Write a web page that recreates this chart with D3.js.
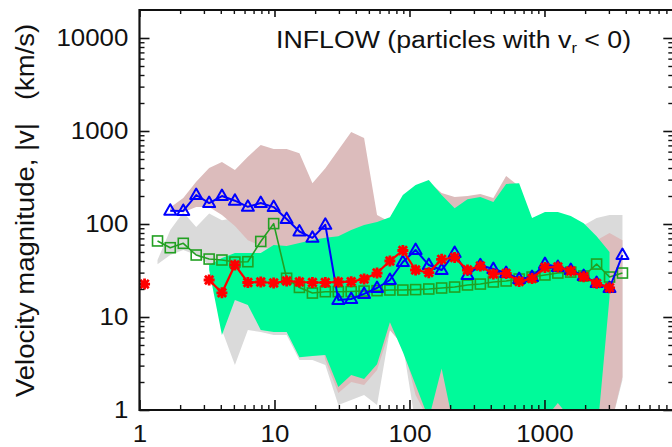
<!DOCTYPE html>
<html>
<head>
<meta charset="utf-8">
<script src="https://cdn.jsdelivr.net/npm/d3@7"></script>
<style>
  html, body { margin: 0; padding: 0; background: #fff; }
  svg { display: block; }
  text { font-family: "Liberation Sans", Arial, Helvetica, sans-serif; fill: #111; }
</style>
</head>
<body>
<svg id="chart" width="672" height="447"></svg>
<script>
// Radial bins (log-spaced bin centres)
const binX = [1.09, 1.36, 1.69, 2.11, 2.63, 3.28, 4.08, 5.09, 6.35, 7.91,
              9.86, 12.3, 15.3, 19.1, 23.8, 29.7, 37.0, 46.1, 57.5, 71.6,
              89.3, 111, 139, 173, 216, 269, 335, 418, 520, 649,
              809, 1008, 1256, 1566, 1952, 2433, 3033, 3781];

// Median speeds of the three particle samples (null = empty bin)
const blueV = [null, null, 139, 138, 205, 168, 200, 178, 153, 168,
               152, 113, 83, 71, 98, 15.2, 15.6, 17.7, 20.5, 25.0,
               39, 52.5, 36.2, 32, 48.8, 28.3, 36, 32.8, 29.7, 25.6,
               26.9, 37.1, 34.5, 32, 27.6, 23.2, 20.5, 46.4];
const redV = [22.6, null, null, null, null, 25, 18.2, 36.3, 23.5, 23.8,
              23.2, 24.4, 23.8, 23.5, 23.5, 23.8, 24, 25.6, 29.7, 40,
              51.9, 32, 30, 41.7, 43.6, 32, 35.3, 29, 29.4, 24.1,
              25.9, 34.1, 34.5, 31.2, 27.1, 23, 20.6, null];
const greenV = [null, 65.7, 55.6, 62, 46.4, 42, 41, 39, 39.3, 64.9,
                101, 26.1, 20.8, 18.1, 18.7, 18.7, 18.8, 19.0, 19.2, 19.5,
                19.5, 19.7, 20, 20.5, 21, 22.1, 22.6, 23.8, 24.4, 25.6,
                26.9, 28.3, 29.7, 30.4, 27.6, 37.1, 26.9, 29.7];

// Spread (low / high) of each sample
const greyLo = [null, 37, 46.4, 52.5, 46.4, 36.2, 7.25, 3.05, 7.25, 6.9,
                6.4, 6.4, 3.45, 3.45, 3.05, 1.13, 1.28, 1.45, 1.13, 7.25,
                5, 0.7, 0.6, 0.6, 0.6, 0.6, 0.6, 0.6, 0.6, 0.6,
                0.6, 0.6, 0.6, 0.6, 0.6, 0.6, 0.6, 2.1];
const greyHi = [null, 41, 86, 134, 93, 130, 110, 116, 90, 82,
                67, 52, 46, 43, 46, 52, 55, 60, 65, 70,
                80, 90, 90, 90, 90, 90, 90, 90, 90, 90,
                90, 90, 90, 90, 97, 116, 125, 125];
const pinkLo = [null, null, 135, 134, 152, 152, 125, 95, 67, 58,
                52, 46, 40, 20, 3.45, 1.52, 2.0, 1.86, 2.69, 7.25,
                5, 1.45, 0.78, 0.6, 0.6, 0.6, 0.6, 0.6, 0.6, 0.6,
                0.6, 0.8, 0.8, 0.8, 0.6, 0.6, 0.6, 2.26];
const pinkHi = [null, null, 150, 190, 284, 400, 465, 381, 530, 707,
                640, 640, 575, 275, 398, 625, 975, 840, 125, 105,
                181, 244, 284, 215, 195, 200, 210, 190, 328, 255,
                105, 125, 125, 113, 95, 67, 80, 67];
const mintLo = [null, null, null, null, null, 32, 6.4, 15.2, 13.5, 7.25,
                6.9, 6.9, 3.7, 3.8, 3.9, 1.77, 2.38, 2.15, 3.1, 8.8,
                4.2, 1.86, 0.8, 2.8, 0.6, 0.6, 0.6, 0.6, 0.6, 0.6,
                0.6, 0.8, 1.19, 0.8, 0.6, 0.48, 16.4, null];
const mintHi = [null, null, null, null, null, 36.2, 43, 48.7, 48.7, 48.7,
                59.5, 58, 62.5, 67.3, 71, 74, 86, 97.5, 105, 118,
                205, 263, 297, 205, 148, 185, 195, 172, 270, 275,
                116, 135, 135, 122, 102, 74, 50, null];

const xMajor = [1, 10, 100, 1000];
const yMajor = [1, 10, 100, 1000, 10000];

const plotL = 139.5, plotR = 673.3, plotT = 10, plotB = 410;

const x = d3.scaleLog().domain([1, 9000]).range([plotL, plotR]);
const y = d3.scaleLog().domain([1, 20000]).range([plotB, plotT]);

const svg = d3.select("#chart");

svg.append("defs").append("clipPath").attr("id", "plot-clip")
  .append("rect").attr("x", plotL).attr("y", plotT)
  .attr("width", plotR - plotL).attr("height", plotB - plotT);

const plot = svg.append("g").attr("clip-path", "url(#plot-clip)");

function band(lo, hi, color) {
  const rows = binX.map((bx, i) => ({ bx, lo: lo[i], hi: hi[i] }));
  const area = d3.area()
    .defined(d => d.lo != null && d.hi != null)
    .x(d => x(d.bx)).y0(d => y(d.lo)).y1(d => y(d.hi));
  plot.append("path").datum(rows).attr("d", area)
    .attr("fill", color).attr("stroke", "none");
}
band(greyLo, greyHi, "#dadada");
band(pinkLo, pinkHi, "#dcbcbc");
band(mintLo, mintHi, "#00fa9a");

function series(vals, color, width) {
  const rows = binX.map((bx, i) => ({ bx, v: vals[i] }));
  const line = d3.line().defined(d => d.v != null)
    .x(d => x(d.bx)).y(d => y(d.v));
  plot.append("path").datum(rows).attr("d", line)
    .attr("fill", "none").attr("stroke", color)
    .attr("stroke-width", width).attr("stroke-linejoin", "round");
  return rows.filter(d => d.v != null);
}

// green: open squares
const gPts = series(greenV, "#22a022", 1.6);
plot.append("g").selectAll("rect").data(gPts).join("rect")
  .attr("x", d => x(d.bx) - 5).attr("y", d => y(d.v) - 5)
  .attr("width", 10).attr("height", 10)
  .attr("fill", "none").attr("stroke", "#22a022").attr("stroke-width", 1.6);

// blue: open triangles
const bPts = series(blueV, "#0000ff", 2);
plot.append("g").selectAll("path").data(bPts).join("path")
  .attr("d", "M0,-6.5L6,4L-6,4Z")
  .attr("transform", d => `translate(${x(d.bx)},${y(d.v)})`)
  .attr("fill", "none").attr("stroke", "#0000ff").attr("stroke-width", 2)
  .attr("stroke-linejoin", "round");

// red: asterisks
const rPts = series(redV, "#ff0000", 2.2);
plot.append("g").selectAll("path").data(rPts).join("path")
  .attr("d", "M-5.5,0H5.5M0,-5.5V5.5M-4.2,-4.2L4.2,4.2M-4.2,4.2L4.2,-4.2")
  .attr("transform", d => `translate(${x(d.bx)},${y(d.v)})`)
  .attr("fill", "none").attr("stroke", "#ff0000").attr("stroke-width", 2.8);

// axes
function minorTicks(domain) {
  const out = [];
  for (let p = Math.floor(Math.log10(domain[0])); p <= Math.ceil(Math.log10(domain[1])); p++) {
    for (let m = 2; m <= 9; m++) {
      const v = m * Math.pow(10, p);
      if (v > domain[0] && v < domain[1]) out.push(v);
    }
  }
  return out;
}
const xMinor = minorTicks(x.domain());
const yMinor = minorTicks(y.domain());
const stretch = "scale(1.1,1)";

function styleAxis(g, sw) {
  g.select(".domain").remove();
  g.selectAll(".tick line").attr("stroke", "#111").attr("stroke-width", sw);
}

// bottom
svg.append("g").attr("transform", `translate(0,${plotB})`)
  .call(d3.axisBottom(x).tickValues(xMinor).tickSizeInner(-5).tickSizeOuter(0).tickFormat(""))
  .call(g => styleAxis(g, 1.4));
svg.append("g").attr("transform", `translate(0,${plotB})`)
  .call(d3.axisBottom(x).tickValues(xMajor).tickSizeInner(-10).tickSizeOuter(0)
        .tickPadding(15).tickFormat(d3.format("d")))
  .call(g => styleAxis(g, 1.6))
  .call(g => g.selectAll("text").attr("font-size", 23.5).attr("fill", "#111")
        .attr("transform", stretch));
// top
svg.append("g").attr("transform", `translate(0,${plotT})`)
  .call(d3.axisTop(x).tickValues(xMinor).tickSizeInner(-4).tickSizeOuter(0).tickFormat(""))
  .call(g => styleAxis(g, 1.4));
svg.append("g").attr("transform", `translate(0,${plotT})`)
  .call(d3.axisTop(x).tickValues(xMajor).tickSizeInner(-7).tickSizeOuter(0).tickFormat(""))
  .call(g => styleAxis(g, 1.6));
// left
svg.append("g").attr("transform", `translate(${plotL},0)`)
  .call(d3.axisLeft(y).tickValues(yMinor).tickSizeInner(-5).tickSizeOuter(0).tickFormat(""))
  .call(g => styleAxis(g, 1.4));
svg.append("g").attr("transform", `translate(${plotL},0)`)
  .call(d3.axisLeft(y).tickValues(yMajor).tickSizeInner(-10).tickSizeOuter(0)
        .tickPadding(10.2).tickFormat(d3.format("d")))
  .call(g => styleAxis(g, 1.6))
  .call(g => g.selectAll("text").attr("font-size", 23.5).attr("fill", "#111")
        .attr("transform", stretch));
// right
svg.append("g").attr("transform", `translate(${plotR},0)`)
  .call(d3.axisRight(y).tickValues(yMinor).tickSizeInner(-5).tickSizeOuter(0).tickFormat(""))
  .call(g => styleAxis(g, 1.4));
svg.append("g").attr("transform", `translate(${plotR},0)`)
  .call(d3.axisRight(y).tickValues(yMajor).tickSizeInner(-10).tickSizeOuter(0).tickFormat(""))
  .call(g => styleAxis(g, 1.6));

// frame
svg.append("path")
  .attr("d", `M${plotL},${plotT}H${plotR}V${plotB}H${plotL}Z`)
  .attr("fill", "none").attr("stroke", "#111").attr("stroke-width", 2.2);

// y-axis title
svg.append("text")
  .attr("transform", "translate(34,397) rotate(-90) scale(1.1,1)")
  .attr("font-size", 25)
  .style("white-space", "pre")
  .text("Velocity magnitude, |v|   (km/s)");

// panel title
const t = svg.append("text")
  .attr("transform", "translate(276,48) scale(1.1,1)")
  .attr("font-size", 24.3)
  .style("white-space", "pre");
t.append("tspan").text("INFLOW (particles with v");
t.append("tspan").attr("font-size", 15).attr("dy", 5).text("r");
t.append("tspan").attr("dy", -5).text(" < 0)");
</script>
</body>
</html>
